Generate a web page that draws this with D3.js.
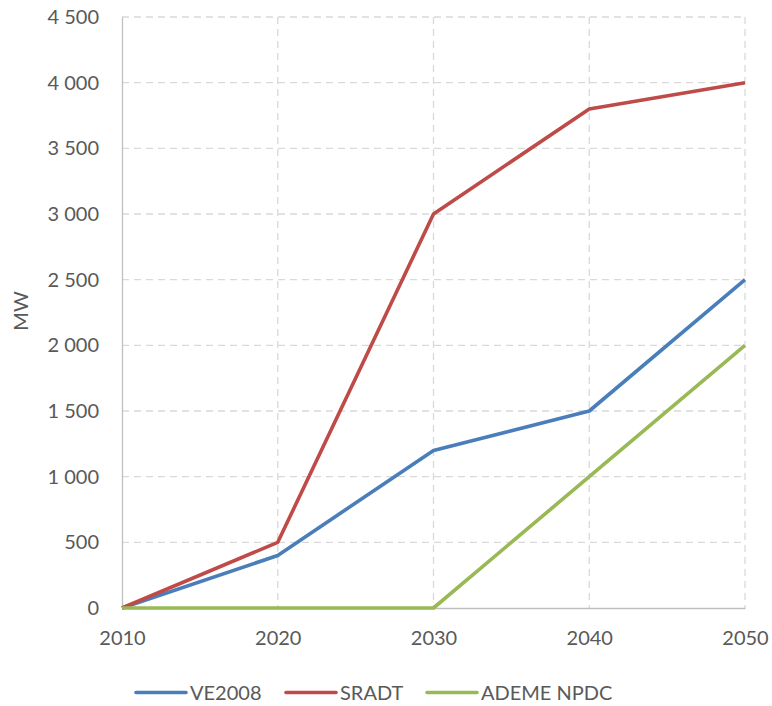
<!DOCTYPE html>
<html><head><meta charset="utf-8">
<script src="https://cdn.jsdelivr.net/npm/d3@7"></script>
<style>body{margin:0;background:#fff}</style>
</head><body>
<script>
const years = [2010, 2020, 2030, 2040, 2050];
const ve2008 = [0, 400, 1200, 1500, 2500];
const sradt = [0, 500, 3000, 3800, 4000];
const ademe = [0, 0, 0, 1000, 2000];
const seriesNames = ["VE2008", "SRADT", "ADEME NPDC"];
const seriesColors = ["#4A7EBB", "#BE4B48", "#98B954"];
const yTicks = [0, 500, 1000, 1500, 2000, 2500, 3000, 3500, 4000, 4500];

const W = 772, H = 706;
const m = {l: 122, r: 27, t: 17, b: 98};
const svg = d3.select("body").append("svg").attr("width", W).attr("height", H);
const x = d3.scaleLinear().domain([2010, 2050]).range([m.l, W - m.r]);
const y = d3.scaleLinear().domain([0, 4500]).range([H - m.b, m.t]);
const font = "Lato, Open Sans, sans-serif";
const fs = 20;
const fmt = v => d3.format(",")(v).replace(/,/g, " ");

// gridlines
svg.append("g").selectAll("line").data(yTicks.filter(v => v > 0)).join("line")
  .attr("x1", m.l).attr("x2", W - m.r).attr("y1", d => y(d)).attr("y2", d => y(d))
  .attr("stroke", "#D9D9D9").attr("stroke-width", 1.3).attr("stroke-dasharray", "7,5");
svg.append("g").selectAll("line").data(years.slice(1)).join("line")
  .attr("x1", d => x(d)).attr("x2", d => x(d)).attr("y1", m.t).attr("y2", y(0))
  .attr("stroke", "#D9D9D9").attr("stroke-width", 1.3).attr("stroke-dasharray", "7,5");

// axes
const yAxis = svg.append("g").attr("transform", `translate(${m.l},0)`)
  .call(d3.axisLeft(y).tickValues(yTicks).tickFormat(fmt).tickSize(0).tickPadding(23));
yAxis.select(".domain").attr("stroke", "#BFBFBF").attr("stroke-width", 1.3);
yAxis.selectAll("text").attr("font-family", font).attr("font-size", fs).attr("fill", "#595959");

const xAxis = svg.append("g").attr("transform", `translate(0,${y(0)})`)
  .call(d3.axisBottom(x).tickValues(years).tickFormat(d3.format("d")).tickSize(0).tickPadding(23));
xAxis.select(".domain").attr("stroke", "#BFBFBF").attr("stroke-width", 1.3);
xAxis.selectAll("text").attr("font-family", font).attr("font-size", fs).attr("fill", "#595959");

svg.append("text").attr("transform", `translate(28,311) rotate(-90)`)
  .attr("text-anchor", "middle").attr("font-family", font).attr("font-size", fs)
  .attr("fill", "#595959").text("MW");

const data = [ve2008, sradt, ademe];
const line = d3.line().x((d, i) => x(years[i])).y(d => y(d));
[0, 1, 2].forEach(k => {
  svg.append("path").datum(data[k]).attr("d", line).attr("fill", "none")
    .attr("stroke", seriesColors[k]).attr("stroke-width", 3.6).attr("stroke-linejoin", "round");
});

// legend
const legX = [136, 286, 427];
const lg = svg.append("g");
seriesNames.forEach((n, k) => {
  const gx = legX[k];
  lg.append("line").attr("x1", gx).attr("x2", gx + 50).attr("y1", 692.5).attr("y2", 692.5)
    .attr("stroke", seriesColors[k]).attr("stroke-width", 3.6).attr("stroke-linecap", "round");
  lg.append("text").attr("x", gx + 54).attr("y", 700).attr("font-family", font).attr("font-size", fs)
    .attr("fill", "#595959").text(n);
});
</script>
</body></html>
